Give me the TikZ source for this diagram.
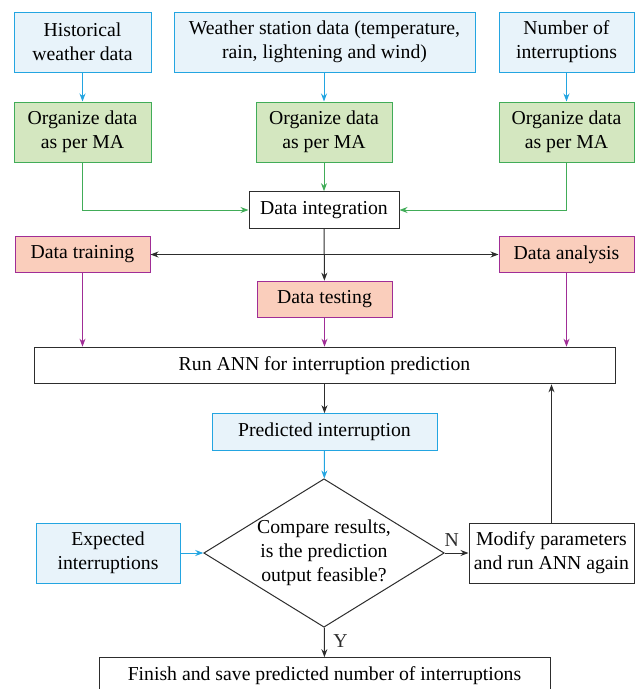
\documentclass[tikz,border=0pt]{standalone}
\usepackage{fontspec}
\setmainfont{Liberation Serif}
\usetikzlibrary{shapes.geometric,arrows.meta}

\definecolor{blueline}{RGB}{35,165,225}
\definecolor{bluefill}{RGB}{232,243,250}
\definecolor{greenline}{RGB}{65,172,88}
\definecolor{greenfill}{RGB}{212,231,192}
\definecolor{purpleline}{RGB}{160,45,150}
\definecolor{pinkfill}{RGB}{250,206,188}
\definecolor{boxline}{RGB}{45,45,45}

\tikzset{every picture/.style={line width=0.75pt}}
\tikzset{
  box/.style={draw=boxline, fill=white, align=center, inner sep=0pt, font=\fontsize{14.8}{18}\selectfont},
  bluebox/.style={box, draw=blueline, fill=bluefill},
  greenbox/.style={box, draw=greenline, fill=greenfill},
  pinkbox/.style={box, draw=purpleline, fill=pinkfill},
  tallbox/.style={minimum height=45pt},
  lowbox/.style={minimum height=27.5pt},
  decision/.style={box, diamond, shape aspect=1.62, minimum width=180pt, minimum height=111pt},
  tip/.style={-{Stealth[length=6pt,width=4.5pt]}}
}

\begin{document}
\begin{tikzpicture}[x=0.75pt,y=0.75pt,yscale=-1,xscale=1]
\useasboundingbox (0,0) rectangle (638,689);
\clip (0,0) rectangle (638,689);

% Input Nodes
\draw (82.5,42) node (hist) [bluebox, tallbox, minimum width=102.75pt] {Historical\\weather data};
\draw (324.5,42) node (wsd) [bluebox, tallbox, minimum width=225.75pt] {Weather station data (temperature,\\rain, lightening and wind)};
\draw (566.5,42) node (numi) [bluebox, tallbox, minimum width=101.25pt] {Number of\\interruptions};
% Organize Nodes
\draw (82.5,132) node (orga) [greenbox, tallbox, minimum width=102.75pt] {Organize data\\as per MA};
\draw (324,132) node (orgb) [greenbox, tallbox, minimum width=102pt] {Organize data\\as per MA};
\draw (566.5,132) node (orgc) [greenbox, tallbox, minimum width=101.25pt] {Organize data\\as per MA};
% Text Node
\draw (324,210) node (integ) [box, lowbox, minimum width=112.5pt] {Data integration};
% Data Nodes
\draw (82.5,254.5) node (train) [pinkbox, lowbox, minimum width=101.25pt] {Data training};
\draw (566.5,254.5) node (anal) [pinkbox, lowbox, minimum width=101.25pt] {Data analysis};
\draw (324.5,299.5) node (test) [pinkbox, lowbox, minimum width=101.25pt] {Data testing};
% Text Node
\draw (324.5,365.5) node (run) [box, lowbox, minimum width=435.75pt] {Run ANN for interruption prediction};
\draw (324.5,432) node (pred) [bluebox, lowbox, minimum width=168.75pt] {Predicted interruption};
% Decision Node
\draw (324,553) node (cmp) [decision] {Compare results,\\is the prediction\\output feasible?};
\draw (108,553) node (expect) [bluebox, tallbox, minimum width=108pt] {Expected\\interruptions};
\draw (551.5,553) node (modify) [box, tallbox, minimum width=123.75pt] {Modify parameters\\and run ANN again};
\draw (324.5,676) node (finish) [box, lowbox, minimum width=338.25pt] {Finish and save predicted number of interruptions};

%Straight Lines
\draw [tip, blueline] (hist) -- (orga);
\draw [tip, blueline] (wsd.south -| orgb) -- (orgb);
\draw [tip, blueline] (numi) -- (orgc);
\draw [tip, greenline] (orga) |- (integ);
\draw [tip, greenline] (orgb) -- (integ);
\draw [tip, greenline] (orgc) |- (integ);
%Straight Lines
\draw [tip, boxline] (integ) -- (test);
\draw [{Stealth[length=6pt,width=4.5pt]}-{Stealth[length=6pt,width=4.5pt]}, boxline] (train) -- (anal);
\draw [tip, purpleline] (train) -- (train |- run.north);
\draw [tip, purpleline] (test) -- (run);
\draw [tip, purpleline] (anal) -- (anal |- run.north);
%Straight Lines
\draw [tip, boxline] (run) -- (pred);
\draw [tip, blueline] (pred) -- (cmp);
\draw [tip, blueline] (expect) -- (cmp);
\draw [tip, boxline] (cmp) -- node [pos=0.3, above=1pt, font=\fontsize{14.8}{18}\selectfont] {N} (modify);
\draw [tip, boxline] (modify) -- (modify |- run.south);
\draw [tip, boxline] (cmp) -- node [pos=0.45, right=3pt, font=\fontsize{14.8}{18}\selectfont] {Y} (finish);

\end{tikzpicture}
\end{document}
